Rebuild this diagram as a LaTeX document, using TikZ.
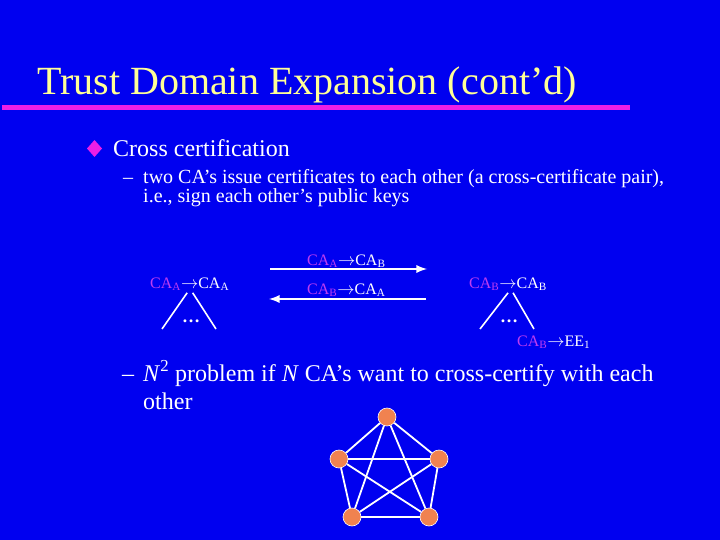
\documentclass[tikz,border=0pt]{standalone}
\usepackage{fontspec}
\setmainfont{Liberation Serif}
\definecolor{slideblue}{RGB}{0,0,240}
\definecolor{titleyellow}{RGB}{255,255,150}
\definecolor{rulepink}{RGB}{236,30,230}
\definecolor{capurple}{RGB}{190,60,240}
\definecolor{vorange}{RGB}{240,130,80}
\newcommand{\cert}[2]{{\color{capurple}CA\textsubscript{#1}}$\rightarrow$#2}
\begin{document}
\begin{tikzpicture}[x=1pt, y=-1pt, every node/.style={inner sep=0pt, text=white, anchor=base west},
                    sub/.style={font=\fontsize{20}{20}\selectfont},
                    big/.style={font=\fontsize{24}{24}\selectfont},
                    lbl/.style={font=\fontsize{16}{16}\selectfont},
                    leg/.style={white, line width=1.6pt},
                    flow/.style={white, line width=2.6pt, -latex},
                    vtx/.style={circle, draw=white, line width=.6pt, fill=vorange,
                      minimum size=18pt, anchor=center},
                    link/.style={white, line width=1.8pt}]
  \useasboundingbox (0,0) rectangle (720,540);
  \fill[slideblue] (0,0) rectangle (720,540);
  % title
  \node[font=\fontsize{40}{40}\selectfont, text=titleyellow] (title) at (37,95) {Trust Domain Expansion (cont’d)};
  \fill[rulepink] (2,105) rectangle (630,110);
  % bullets
  \fill[rulepink] (94.5,140) -- (102,148.5) -- (94.5,157) -- (87,148.5) -- cycle;
  \node[big] (cross) at (113,157) {Cross certification};
  \node[sub] (dash1) at (123,184) {–};
  \node[sub] (two) at (143,184) {two CA’s issue certificates to each other (a cross-certificate pair),};
  \node[sub] (ie) at (143,203) {i.e., sign each other’s public keys};
  % cross certificate pair
  \node[lbl] (aa) at (150,288) {\cert{A}{CA\textsubscript{A}}};
  \node[lbl] (ab) at (307,265) {\cert{A}{CA\textsubscript{B}}};
  \node[lbl] (ba) at (307,294) {\cert{B}{CA\textsubscript{A}}};
  \node[lbl] (bb) at (469,288) {\cert{B}{CA\textsubscript{B}}};
  \node[lbl] (bee) at (517,346) {\cert{B}{EE\textsubscript{1}}};
  \node[lbl, font=\fontsize{18}{18}\selectfont\bfseries] (adots) at (182,322) {\ldots};
  \node[lbl, font=\fontsize{18}{18}\selectfont\bfseries] (bdots) at (500,322) {\ldots};
  \coordinate (aleft) at (162,329);
  \coordinate (aright) at (216,329);
  \coordinate (bleft) at (480,329);
  \coordinate (bright) at (534,329);
  \coordinate (abfrom) at (270,269);
  \coordinate (abto) at (427,269);
  \coordinate (bafrom) at (426,299);
  \coordinate (bato) at (269,299);
  \draw[leg] ([xshift=-2.5pt,yshift=-2pt]aa.south) -- (aleft);
  \draw[leg] ([xshift=3pt,yshift=-2pt]aa.south) -- (aright);
  \draw[leg] ([xshift=0pt,yshift=-2pt]bb.south) -- (bleft);
  \draw[leg] ([xshift=5pt,yshift=-2pt]bb.south) -- (bright);
  \draw[flow] (abfrom) -- (abto);
  \draw[flow] (bafrom) -- (bato);
  % N^2
  \node[big] (dash2) at (122,381) {–};
  \node[big] (nsq) at (143,381) {\textit{N}\textsuperscript{2} problem if \textit{N} CA’s want to cross-certify with each};
  \node[big] (other) at (143,409) {other};
  \node[vtx] (p1) at (387,417) {};
  \node[vtx] (p2) at (339,459) {};
  \node[vtx] (p3) at (439,459) {};
  \node[vtx] (p4) at (352,517) {};
  \node[vtx] (p5) at (429,517) {};
  \foreach \a/\b in {p1/p2,p1/p3,p1/p4,p1/p5,p2/p3,p2/p4,p2/p5,p3/p4,p3/p5,p4/p5}
    \draw[link] (\a) -- (\b);
\end{tikzpicture}
\end{document}
